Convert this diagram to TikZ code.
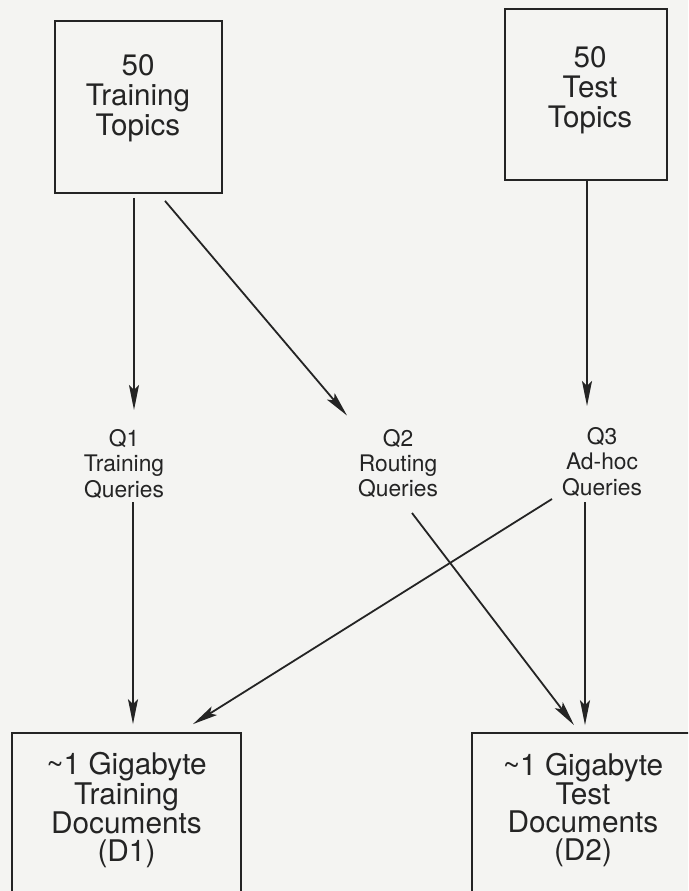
\documentclass[tikz,border=0pt]{standalone}
\usepackage{fontspec}
\setmainfont{TeX Gyre Heros}
\usetikzlibrary{arrows.meta}
\definecolor{bg}{HTML}{F4F4F2}
\definecolor{ink}{HTML}{242424}
\tikzset{
  box/.style={draw=ink, line width=1.8pt, inner sep=0pt},
  bigtext/.style={text=ink, align=center, inner sep=0pt, font={\fontsize{29.6}{29.8}\selectfont}},
  doctext/.style={text=ink, align=center, inner sep=0pt, font={\fontsize{29.8}{27.8}\selectfont}},
  qtext/.style={text=ink, align=center, inner sep=0pt, font={\fontsize{22.8}{25.3}\selectfont}},
  arr/.style={draw=ink, line width=1.8pt, -{Stealth[length=25pt,width=10pt,inset=5pt]}}
}
\begin{document}
\begin{tikzpicture}[x=1pt,y=-1pt]
\useasboundingbox (0,0) rectangle (688,891);
\fill[bg] (0,0) rectangle (688,891);
\clip (0,0) rectangle (688,891);

% top boxes
\node[box, minimum width=167pt, minimum height=172pt] (t1) at (138.5,107) {};
\node[bigtext] (t1t) at (138,98) {50\\Training\\Topics};
\node[box, minimum width=162pt, minimum height=171pt] (t2) at (586,94.5) {};
\node[bigtext] (t2t) at (590,90) {50\\Test\\Topics};

% query labels
\node[qtext] (q1) at (124,464) {Q1\\Training\\Queries};
\node[qtext] (q2) at (398,463.5) {Q2\\Routing\\Queries};
\node[qtext] (q3) at (602,462) {Q3\\Ad-hoc\\Queries};

% bottom boxes
\node[box, minimum width=229pt, minimum height=200pt] (d1) at (126.5,833) {};
\node[doctext] (d1t) at (126.5,810) {\textasciitilde1 Gigabyte\\Training\\Documents\\(D1)};
\node[box, minimum width=224pt, minimum height=200pt] (d2) at (584,833) {};
\node[doctext] (d2t) at (583,810) {\textasciitilde1 Gigabyte\\Test\\Documents\\(D2)};

% connectors
\draw[arr] ([shift={(-4.5,4)}]t1.south) -- ([shift={(10,-54)}]q1.center);
\draw[arr] ([shift={(26.5,7)}]t1.south) -- ([shift={(-51,-48)}]q2.center);
\draw[arr] ([shift={(1,0)}]t2.south) -- ([shift={(-15,-56)}]q3.center);
\draw[arr] ([shift={(9,38)}]q1.center) -- ([shift={(6.5,-8)}]d1.north);
\draw[arr] ([shift={(14,49.5)}]q2.center) -- ([shift={(-10,-7)}]d2.north);
\draw[arr] ([shift={(-50,37)}]q3.center) -- ([shift={(66.5,-8)}]d1.north);
\draw[arr] ([shift={(-17,40)}]q3.center) -- ([shift={(1,-7)}]d2.north);
\end{tikzpicture}
\end{document}
